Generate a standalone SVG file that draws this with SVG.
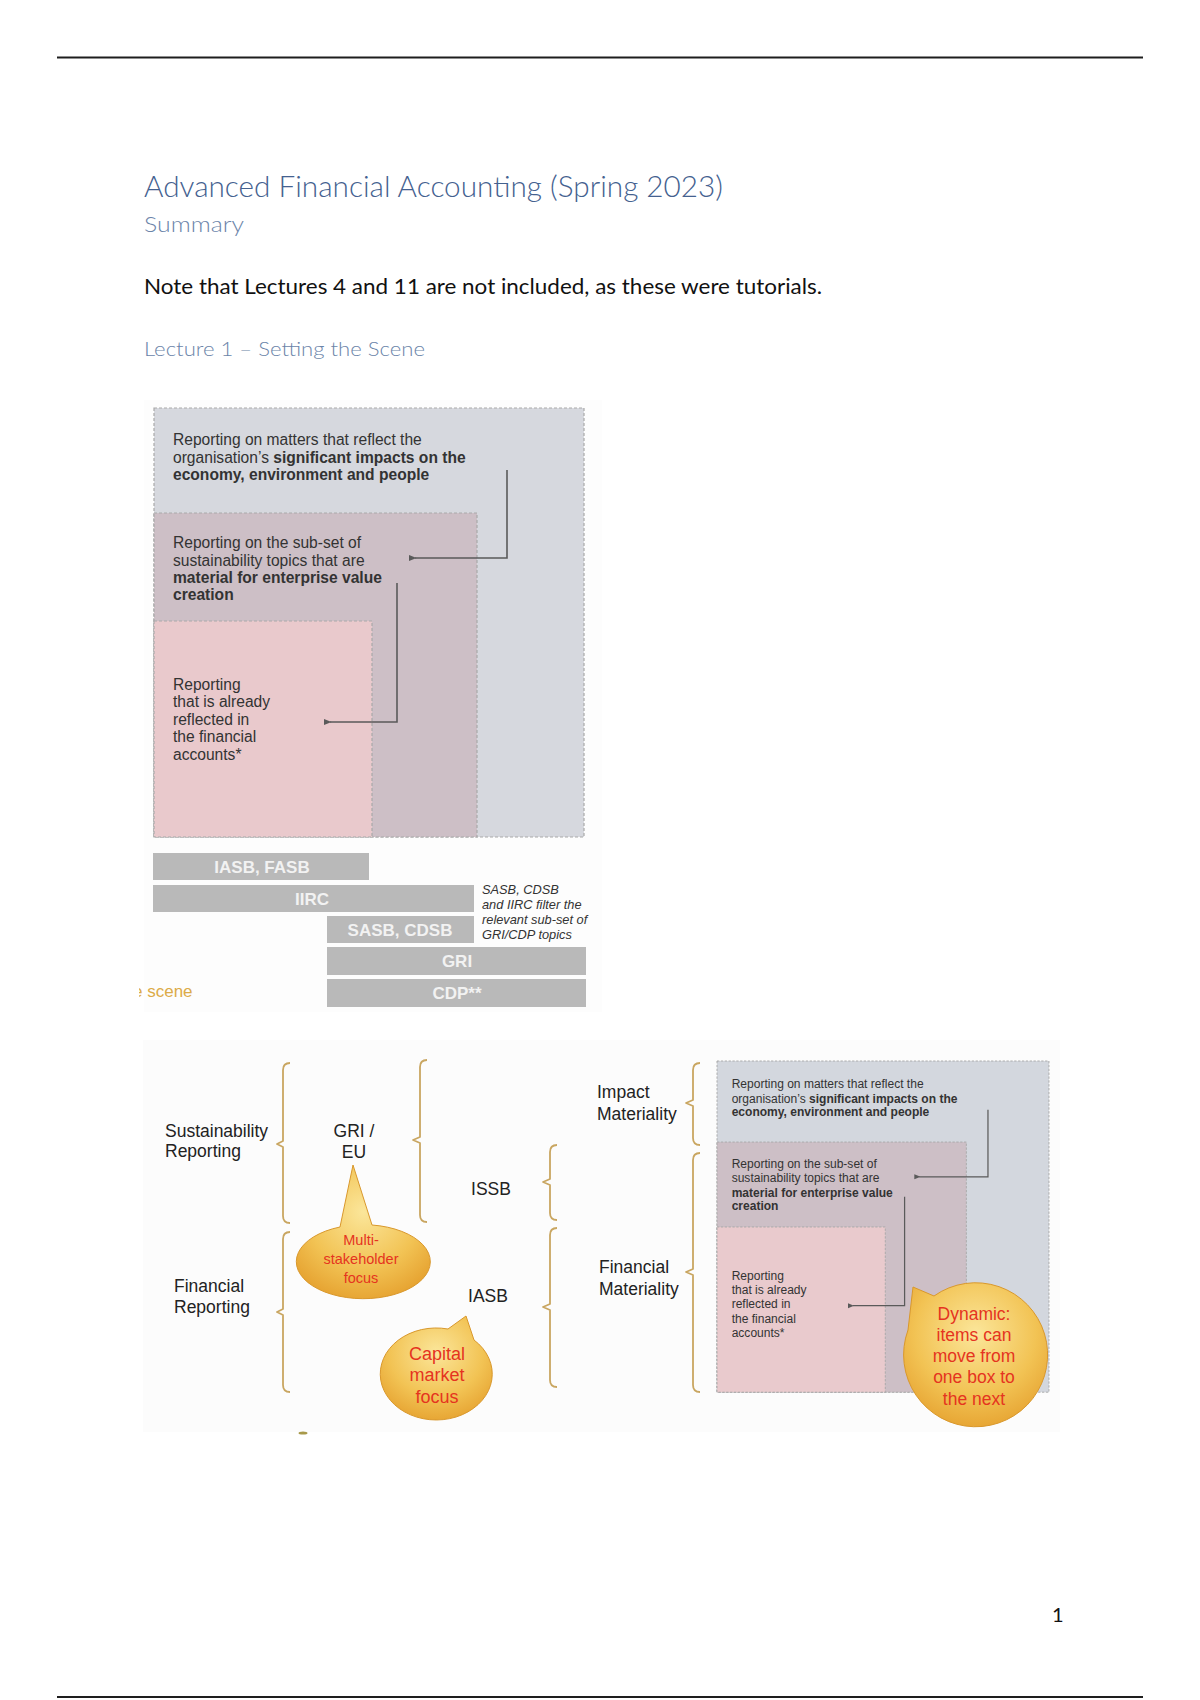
<svg xmlns="http://www.w3.org/2000/svg" width="1200" height="1700" viewBox="0 0 1200 1700">
<defs>
<style>
.doc{font-family:Lato,"Open Sans","Liberation Sans",sans-serif}
.h{fill:#44618f}
.sub{fill:#6b84a9}
.d{font-family:"Liberation Sans",Arial,sans-serif;fill:#333}
.b{font-weight:bold}
.bx{stroke:#a9a9a9;stroke-width:1.2;stroke-dasharray:3 2}
.bar{fill:#b9b9b9}
.bt{font-family:"Liberation Sans",Arial,sans-serif;font-weight:bold;font-size:17px;fill:#f2f2f2;text-anchor:middle}
.lbl{font-family:"Liberation Sans",Arial,sans-serif;font-size:17.5px;fill:#222}
.br{fill:none;stroke:#c9a661;stroke-width:1.8;stroke-linejoin:round}
.arr{fill:none;stroke:#5a5a5a;stroke-width:1.6}
.bub{fill:url(#gold);stroke:#d9982c;stroke-width:1}
.rt{font-family:"Liberation Sans",Arial,sans-serif;fill:#e5341f;text-anchor:middle}
</style>
<radialGradient id="gold" cx="0.5" cy="0.35" r="0.7">
<stop offset="0" stop-color="#fbe69a"/>
<stop offset="0.6" stop-color="#f2c354"/>
<stop offset="1" stop-color="#e5a02e"/>
</radialGradient>
<marker id="ah" viewBox="0 0 10 10" refX="2" refY="5" markerWidth="5" markerHeight="5" orient="auto-start-reverse">
<path d="M10,1 L0,5 L10,9 Z" fill="#5a5a5a"/>
</marker>
<clipPath id="clipScene"><rect x="139" y="970" width="80" height="40"/></clipPath>
</defs>

<rect width="1200" height="1700" fill="#fff"/>
<line x1="57" y1="57.5" x2="1143" y2="57.5" stroke="#1e1e1e" stroke-width="1.8"/>
<line x1="57" y1="1697" x2="1143" y2="1697" stroke="#1e1e1e" stroke-width="1.8"/>

<g id="header" class="doc">
<text x="144" y="197" font-size="29" class="h" textLength="579" lengthAdjust="spacingAndGlyphs" font-weight="300">Advanced Financial Accounting (Spring 2023)</text>
<text x="144" y="232" font-size="21" class="sub" textLength="100" lengthAdjust="spacingAndGlyphs" font-weight="300">Summary</text>
<text x="144" y="294" font-size="21" fill="#111" textLength="678" lengthAdjust="spacingAndGlyphs">Note that Lectures 4 and 11 are not included, as these were tutorials.</text>
<text x="144" y="356" font-size="20" class="sub" textLength="281" lengthAdjust="spacingAndGlyphs" font-weight="300">Lecture 1 – Setting the Scene</text>
<text x="1052" y="1622" font-size="20" fill="#111">1</text>
</g>

<!-- faint image backgrounds -->
<rect x="144" y="400" width="458" height="612" fill="#fdfdfd"/>
<rect x="143" y="1040" width="917" height="392" fill="#fcfcfc"/>

<!-- top nested boxes -->
<g id="boxes-top" transform="translate(154,408)">
<g id="top-outer">
<rect x="0" y="0" width="430" height="429" fill="#d6d8de" class="bx"/>
<text class="d" font-size="15.6"><tspan x="19" y="37">Reporting on matters that reflect the</tspan><tspan x="19" y="55">organisation’s <tspan class="b">significant impacts on the</tspan></tspan><tspan x="19" y="72" class="b">economy, environment and people</tspan></text>
</g>
<g id="top-middle">
<rect x="0" y="105" width="323" height="324" fill="#cdbfc6" class="bx"/>
<text class="d" font-size="15.6"><tspan x="19" y="140">Reporting on the sub-set of</tspan><tspan x="19" y="158">sustainability topics that are</tspan><tspan x="19" y="175" class="b">material for enterprise value</tspan><tspan x="19" y="192" class="b">creation</tspan></text>
</g>
<g id="top-inner">
<rect x="0" y="213" width="218" height="216" fill="#e9c9cc" class="bx"/>
<text class="d" font-size="15.6"><tspan x="19" y="282">Reporting</tspan><tspan x="19" y="299">that is already</tspan><tspan x="19" y="317">reflected in</tspan><tspan x="19" y="334">the financial</tspan><tspan x="19" y="352">accounts*</tspan></text>
</g>
<g id="top-connectors">
<path class="arr" d="M353,62 V150 H261" marker-end="url(#ah)"/>
<path class="arr" d="M243,175 V314 H176" marker-end="url(#ah)"/>
</g>
</g>

<!-- bars -->
<g id="bar-iasb-fasb"><rect class="bar" x="153" y="853" width="216" height="27"/><text class="bt" x="262" y="873">IASB, FASB</text></g>
<g id="bar-iirc"><rect class="bar" x="153" y="885" width="321" height="27"/><text class="bt" x="312" y="905">IIRC</text></g>
<g id="bar-sasb"><rect class="bar" x="327" y="916" width="147" height="27"/><text class="bt" x="400" y="936">SASB, CDSB</text></g>
<g id="bar-gri"><rect class="bar" x="327" y="947" width="259" height="28"/><text class="bt" x="457" y="967">GRI</text></g>
<g id="bar-cdp"><rect class="bar" x="327" y="979" width="259" height="28"/><text class="bt" x="457" y="999">CDP**</text></g>
<g id="bar-note">
<text class="d" font-size="12.8" font-style="italic" fill="#444"><tspan x="482" y="894">SASB, CDSB</tspan><tspan x="482" y="909">and IIRC filter the</tspan><tspan x="482" y="924">relevant sub-set of</tspan><tspan x="482" y="939">GRI/CDP topics</tspan></text>
</g>
<text x="133" y="997" clip-path="url(#clipScene)" font-family="Liberation Sans, Arial, sans-serif" font-size="17" fill="#dcab48">e scene</text>

<!-- bottom-left labels -->
<g id="lbl-sustainability"><text class="lbl"><tspan x="165" y="1137">Sustainability</tspan><tspan x="165" y="1157">Reporting</tspan></text></g>
<g id="lbl-financial"><text class="lbl"><tspan x="174" y="1292">Financial</tspan><tspan x="174" y="1313">Reporting</tspan></text></g>
<g id="lbl-gri-eu"><text class="lbl" text-anchor="middle"><tspan x="354" y="1137">GRI /</tspan><tspan x="354" y="1158">EU</tspan></text></g>
<g id="lbl-issb"><text class="lbl" x="491" y="1195" text-anchor="middle">ISSB</text></g>
<g id="lbl-iasb"><text class="lbl" x="488" y="1302" text-anchor="middle">IASB</text></g>
<g id="lbl-impact"><text class="lbl"><tspan x="597" y="1098">Impact</tspan><tspan x="597" y="1120">Materiality</tspan></text></g>
<g id="lbl-finmat"><text class="lbl"><tspan x="599" y="1273">Financial</tspan><tspan x="599" y="1295">Materiality</tspan></text></g>

<!-- brackets -->
<g id="brackets">
<path class="br" d="M290,1063 Q283,1063 283,1070 V1141 L277,1144 L283,1147 V1216 Q283,1223 290,1223"/>
<path class="br" d="M290,1232 Q283,1232 283,1239 V1309 L277,1312 L283,1315 V1385 Q283,1392 290,1392"/>
<path class="br" d="M427,1060 Q420,1060 420,1067 V1137 L413,1140 L420,1143 V1215 Q420,1222 427,1222"/>
<path class="br" d="M557,1145 Q550,1145 550,1152 V1179 L543,1182 L550,1185 V1213 Q550,1220 557,1220"/>
<path class="br" d="M557,1228 Q550,1228 550,1235 V1304 L543,1307 L550,1310 V1380 Q550,1387 557,1387"/>
<path class="br" d="M700,1063 Q693,1063 693,1070 V1100 L686,1103 L693,1106 V1138 Q693,1145 700,1145"/>
<path class="br" d="M700,1153 Q693,1153 693,1160 V1269 L686,1272 L693,1275 V1385 Q693,1392 700,1392"/>
</g>

<!-- right nested boxes (scaled copy) -->
<g id="boxes-right" transform="translate(717,1061) scale(0.772)">
<g id="right-outer">
<rect x="0" y="0" width="430" height="429" fill="#d3d7de" class="bx"/>
<text class="d" font-size="15.6"><tspan x="19" y="35">Reporting on matters that reflect the</tspan><tspan x="19" y="54">organisation’s <tspan class="b">significant impacts on the</tspan></tspan><tspan x="19" y="71" class="b">economy, environment and people</tspan></text>
</g>
<g id="right-middle">
<rect x="0" y="105" width="323" height="324" fill="#cdbfc6" class="bx"/>
<text class="d" font-size="15.6"><tspan x="19" y="139">Reporting on the sub-set of</tspan><tspan x="19" y="157">sustainability topics that are</tspan><tspan x="19" y="176" class="b">material for enterprise value</tspan><tspan x="19" y="193" class="b">creation</tspan></text>
</g>
<g id="right-inner">
<rect x="0" y="215" width="218" height="214" fill="#e9cacd" class="bx"/>
<text class="d" font-size="15.6"><tspan x="19" y="284">Reporting</tspan><tspan x="19" y="302">that is already</tspan><tspan x="19" y="320">reflected in</tspan><tspan x="19" y="339">the financial</tspan><tspan x="19" y="357">accounts*</tspan></text>
</g>
<g id="right-connectors">
<path class="arr" d="M351,63 V150 H262" marker-end="url(#ah)"/>
<path class="arr" d="M243,176 V317 H176" marker-end="url(#ah)"/>
</g>
</g>

<!-- speech bubbles -->
<g id="bubble-multi">
<path class="bub" d="M340,1227 L353,1165 L372,1225 A67 37 0 1 1 340,1227 Z"/>
<text class="rt" font-size="14.5"><tspan x="361" y="1245">Multi-</tspan><tspan x="361" y="1264">stakeholder</tspan><tspan x="361" y="1283">focus</tspan></text>
</g>
<g id="bubble-capital">
<path class="bub" d="M448,1329 L466,1316 L474,1340 A56 46 0 1 1 448,1329 Z"/>
<text class="rt" font-size="18"><tspan x="437" y="1360">Capital</tspan><tspan x="437" y="1381">market</tspan><tspan x="437" y="1403">focus</tspan></text>
</g>
<g id="bubble-dynamic">
<path class="bub" d="M908,1330 L913,1287 L934,1296 A72 72 0 1 1 908,1330 Z"/>
<text class="rt" font-size="17.5"><tspan x="974" y="1320">Dynamic:</tspan><tspan x="974" y="1341">items can</tspan><tspan x="974" y="1362">move from</tspan><tspan x="974" y="1383">one box to</tspan><tspan x="974" y="1405">the next</tspan></text>
</g>
<ellipse cx="303" cy="1433" rx="4.5" ry="1.6" fill="#a8994a"/>
</svg>
